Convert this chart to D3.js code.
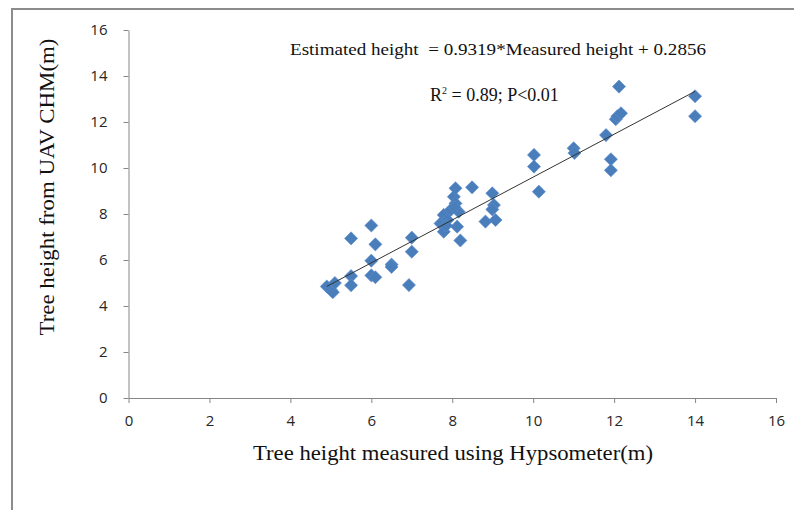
<!DOCTYPE html>
<html>
<head>
<meta charset="utf-8">
<script src="https://d3js.org/d3.v7.min.js"></script>
<style>
  html, body { margin: 0; padding: 0; background: #fff; }
  svg { display: block; }
</style>
</head>
<body>
<svg id="chart" width="794" height="510"></svg>
<script>
// Measured (hypsometer) vs estimated (UAV CHM) tree heights
const measured = [4.9, 5.0, 5.05, 5.1, 5.5, 5.5, 5.5, 6.0, 6.1, 6.0, 6.0, 6.1, 6.5, 6.5, 6.93, 7.0, 7.0,
    7.71, 7.79, 7.79, 7.88, 7.96, 8.04, 8.08, 8.08, 8.16, 8.12, 8.2, 8.49, 8.82, 8.99, 9.03, 8.99, 9.07,
    10.02, 10.02, 10.14, 11.0, 11.02, 11.8, 11.92, 11.92, 12.04, 12.08, 12.17, 12.12, 14.0, 14.0, 7.85, 8.05];
const estimated = [4.85, 4.7, 4.6, 5.0, 6.94, 5.3, 4.9, 7.5, 6.68, 5.97, 5.33, 5.25, 5.8, 5.7, 4.91, 6.97, 6.36,
    7.59, 7.23, 7.96, 7.74, 8.17, 8.75, 9.12, 8.46, 8.10, 7.45, 6.85, 9.16, 7.67, 8.9, 8.39, 8.2, 7.74,
    10.57, 10.06, 8.97, 10.86, 10.65, 11.43, 10.38, 9.9, 12.12, 12.25, 12.38, 13.54, 13.12, 12.25, 7.5, 8.3];

const xTicks = [0, 2, 4, 6, 8, 10, 12, 14, 16];
const yTicks = [0, 2, 4, 6, 8, 10, 12, 14, 16];

const slope = 0.9319, intercept = 0.2856;
const equationText = "Estimated height  = 0.9319*Measured height + 0.2856";

const svg = d3.select("#chart");
const axisColor = "#868686";
const serif = "'Liberation Serif', 'Times New Roman', serif";
const sans = "'Open Sans', 'Noto Sans', sans-serif";

// outer frame (only left and top edges are visible in the picture)
svg.append("path")
    .attr("d", "M12,510 L12,9 L794,9")
    .attr("fill", "none")
    .attr("stroke", "#8c8c8c")
    .attr("stroke-width", 2);

const x = d3.scaleLinear().domain([0, 16]).range([128.5, 776]);
const y = d3.scaleLinear().domain([0, 16]).range([398, 30]);

// axes
const xAxis = svg.append("g")
    .attr("transform", `translate(0,${y(0)})`)
    .call(d3.axisBottom(x).tickValues(xTicks).tickSize(5).tickSizeOuter(0).tickPadding(12));
const yAxis = svg.append("g")
    .attr("transform", `translate(${x(0)},0)`)
    .call(d3.axisLeft(y).tickValues(yTicks).tickSize(5).tickSizeOuter(0).tickPadding(16));

[xAxis, yAxis].forEach(g => {
    g.selectAll("path, line").attr("stroke", axisColor);
    g.selectAll("text")
        .attr("fill", "#262626")
        .style("font-family", sans)
        .style("font-size", "15px");
});

// points
const pts = measured.map((m, i) => ({ m: m, e: estimated[i] }));
svg.append("g")
    .selectAll("path")
    .data(pts)
    .enter()
    .append("path")
    .attr("d", d3.symbol().type(d3.symbolDiamond2).size(110))
    .attr("transform", d => `translate(${x(d.m)},${y(d.e)})`)
    .attr("fill", "#4a7ebb")
    .attr("stroke", "#5b8ccc")
    .attr("stroke-width", 0.6);

// trend line over the data range
const xr = d3.extent(measured);
svg.append("line")
    .attr("x1", x(xr[0]))
    .attr("y1", y(slope * xr[0] + intercept))
    .attr("x2", x(xr[1]))
    .attr("y2", y(slope * xr[1] + intercept))
    .attr("stroke", "#333")
    .attr("stroke-width", 1);

// annotations
svg.append("text")
    .attr("x", 290).attr("y", 55)
    .attr("textLength", 416).attr("lengthAdjust", "spacingAndGlyphs")
    .style("font-family", serif).style("font-size", "17px")
    .attr("fill", "#111")
    .style("white-space", "pre")
    .text(equationText);

const r2 = svg.append("text")
    .attr("x", 430).attr("y", 101)
    .style("font-family", serif).style("font-size", "18px")
    .attr("fill", "#111");
r2.append("tspan").text("R");
r2.append("tspan").attr("dy", -7).style("font-size", "10px").text("2");
r2.append("tspan").attr("dy", 7).text(" = 0.89; P<0.01");

// axis titles
svg.append("text")
    .attr("x", 453).attr("y", 460)
    .attr("text-anchor", "middle")
    .attr("textLength", 400).attr("lengthAdjust", "spacingAndGlyphs")
    .style("font-family", serif).style("font-size", "21px")
    .attr("fill", "#111")
    .text("Tree height measured using Hypsometer(m)");

svg.append("text")
    .attr("transform", "translate(54,187) rotate(-90)")
    .attr("text-anchor", "middle")
    .attr("textLength", 297).attr("lengthAdjust", "spacingAndGlyphs")
    .style("font-family", serif).style("font-size", "21px")
    .attr("fill", "#111")
    .text("Tree height from UAV CHM(m)");
</script>
</body>
</html>
